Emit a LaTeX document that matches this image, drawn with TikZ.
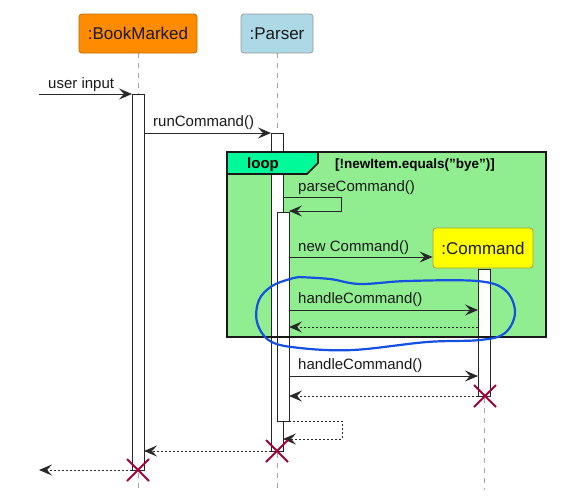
\documentclass[tikz,border=0pt]{standalone}
\usepackage{fontspec}
\setmainfont{Liberation Sans}
\usetikzlibrary{arrows.meta}
\definecolor{bmorange}{RGB}{255,140,0}
\definecolor{plblue}{RGB}{173,216,230}
\definecolor{cmdyellow}{RGB}{255,255,0}
\definecolor{loopgreen}{RGB}{144,238,144}
\definecolor{tabgreen}{RGB}{0,250,154}
\definecolor{xred}{RGB}{168,0,54}
\definecolor{inkblue}{RGB}{20,80,225}
\definecolor{arrowink}{RGB}{40,40,40}
\begin{document}
\begin{tikzpicture}[x=1pt,y=-1pt,
  lifeline/.style={draw=gray!70, line width=0.8pt, dash pattern=on 5pt off 5pt},
  actbar/.style={draw=black!85, fill=white, line width=0.9pt},
  msg/.style={draw=arrowink, line width=0.9pt, -{Stealth[length=13pt,width=11pt,inset=5pt]}},
  retmsg/.style={msg, dash pattern=on 2pt off 2pt},
  msgtext/.style={anchor=base west, inner sep=0pt, font=\fontsize{15}{18}\selectfont, text=black!90},
  part/.style={rounded corners=3pt, line width=0.8pt, font=\fontsize{17}{20}\selectfont, text=black!90},
  destroyx/.style={draw=xred, line width=2pt},
  frameline/.style={draw=black!90, line width=2pt},
]
\useasboundingbox (0,0) rectangle (577,496);
% lifelines
\coordinate (bmtop) at (138,53);
\coordinate (bmbot) at (138,490);
\coordinate (pstop) at (277,53);
\coordinate (psbot) at (277,490);
\coordinate (cmtop) at (484,268);
\coordinate (cmbot) at (484,490);
\draw[lifeline] (bmtop) -- (bmbot);
\draw[lifeline] (pstop) -- (psbot);
\draw[lifeline] (cmtop) -- (cmbot);
% loop frame background
\fill[loopgreen] (227,152) rectangle (546,337);
% activations
\draw[actbar] (132,94) rectangle (144,470);
\draw[actbar] (271,133) rectangle (283,451);
\draw[actbar] (277,212) rectangle (289,421);
\draw[actbar] (478,269) rectangle (490,396);
% loop frame border and tab
\draw[frameline] (227,152) rectangle (546,337);
\filldraw[fill=tabgreen, draw=black!90, line width=1.6pt] (227,152) -- (318,152) -- (318,163) -- (307,174) -- (227,174) -- cycle;
\node[anchor=base west, inner sep=0pt, font=\bfseries\fontsize{15}{18}\selectfont] (looplbl) at (247,168) {loop};
\node[anchor=base west, inner sep=0pt, font=\bfseries\fontsize{13.5}{16}\selectfont] (cond) at (335,168) {[!newItem.equals("bye")]};
% participants
\node[part, fill=bmorange, draw=bmorange!75!black, minimum width=118pt, minimum height=39pt] (bm) at (138,33.5) {:BookMarked};
\node[part, fill=plblue, draw=gray!80, minimum width=72pt, minimum height=39pt] (ps) at (277,33.5) {:Parser};
\node[part, fill=cmdyellow, draw=yellow!60!black, minimum width=100pt, minimum height=40pt] (cm) at (483,248) {:Command};
% messages
\coordinate (uiA) at (39,94); \coordinate (uiB) at (132,94);
\draw[msg] (uiA) -- (uiB);
\node[msgtext] (t1) at (48,88) {user input};
\coordinate (rcA) at (144,133); \coordinate (rcB) at (271,133);
\draw[msg] (rcA) -- (rcB);
\node[msgtext] (t2) at (153,126.5) {runCommand()};
\coordinate (pcA) at (283,197); \coordinate (pcB) at (341,197); \coordinate (pcC) at (341,211); \coordinate (pcD) at (289,211);
\draw[msg] (pcA) -- (pcB) -- (pcC) -- (pcD);
\node[msgtext] (t3) at (298,191) {parseCommand()};
\coordinate (ncA) at (289,257);
\draw[msg] (ncA) -- (cm.west |- ncA);
\node[msgtext] (t4) at (298,251) {new Command()};
\coordinate (h1A) at (289,310); \coordinate (h1B) at (478,310);
\draw[msg] (h1A) -- (h1B);
\node[msgtext] (t5) at (298,303.5) {handleCommand()};
\coordinate (r1A) at (478,327); \coordinate (r1B) at (289,327);
\draw[retmsg] (r1A) -- (r1B);
\coordinate (h2A) at (289,376); \coordinate (h2B) at (478,376);
\draw[msg] (h2A) -- (h2B);
\node[msgtext] (t6) at (298,369.5) {handleCommand()};
\coordinate (r2A) at (478,396); \coordinate (r2B) at (289,396);
\draw[retmsg] (r2A) -- (r2B);
\coordinate (srA) at (289,421); \coordinate (srB) at (342,421); \coordinate (srC) at (342,439); \coordinate (srD) at (283,439);
\draw[retmsg] (srA) -- (srB) -- (srC) -- (srD);
\coordinate (r3A) at (271,451); \coordinate (r3B) at (144,451);
\draw[retmsg] (r3A) -- (r3B);
\coordinate (r4A) at (132,470); \coordinate (r4B) at (39,470);
\draw[retmsg] (r4A) -- (r4B);
% destroy marks
\coordinate (xc) at (485,396);
\coordinate (xp) at (277,451);
\coordinate (xb) at (138,470);
\foreach \c in {xc,xp,xb}{
  \draw[destroyx] ([shift={(-11,-11)}]\c) -- ([shift={(11,11)}]\c);
  \draw[destroyx] ([shift={(-11,11)}]\c) -- ([shift={(11,-11)}]\c);
}
% hand-drawn highlight
\draw[inkblue, line width=2.2pt, line cap=round] plot[smooth, tension=0.6] coordinates {
 (298,277) (330,279) (360,284) (407,281) (477,281) (505,290) (515,312) (505,333) (480,340) (427,342) (353,350) (300,348) (270,341) (257,322) (259,300) (272,286) (290,279) (300,277)};
\end{tikzpicture}
\end{document}
